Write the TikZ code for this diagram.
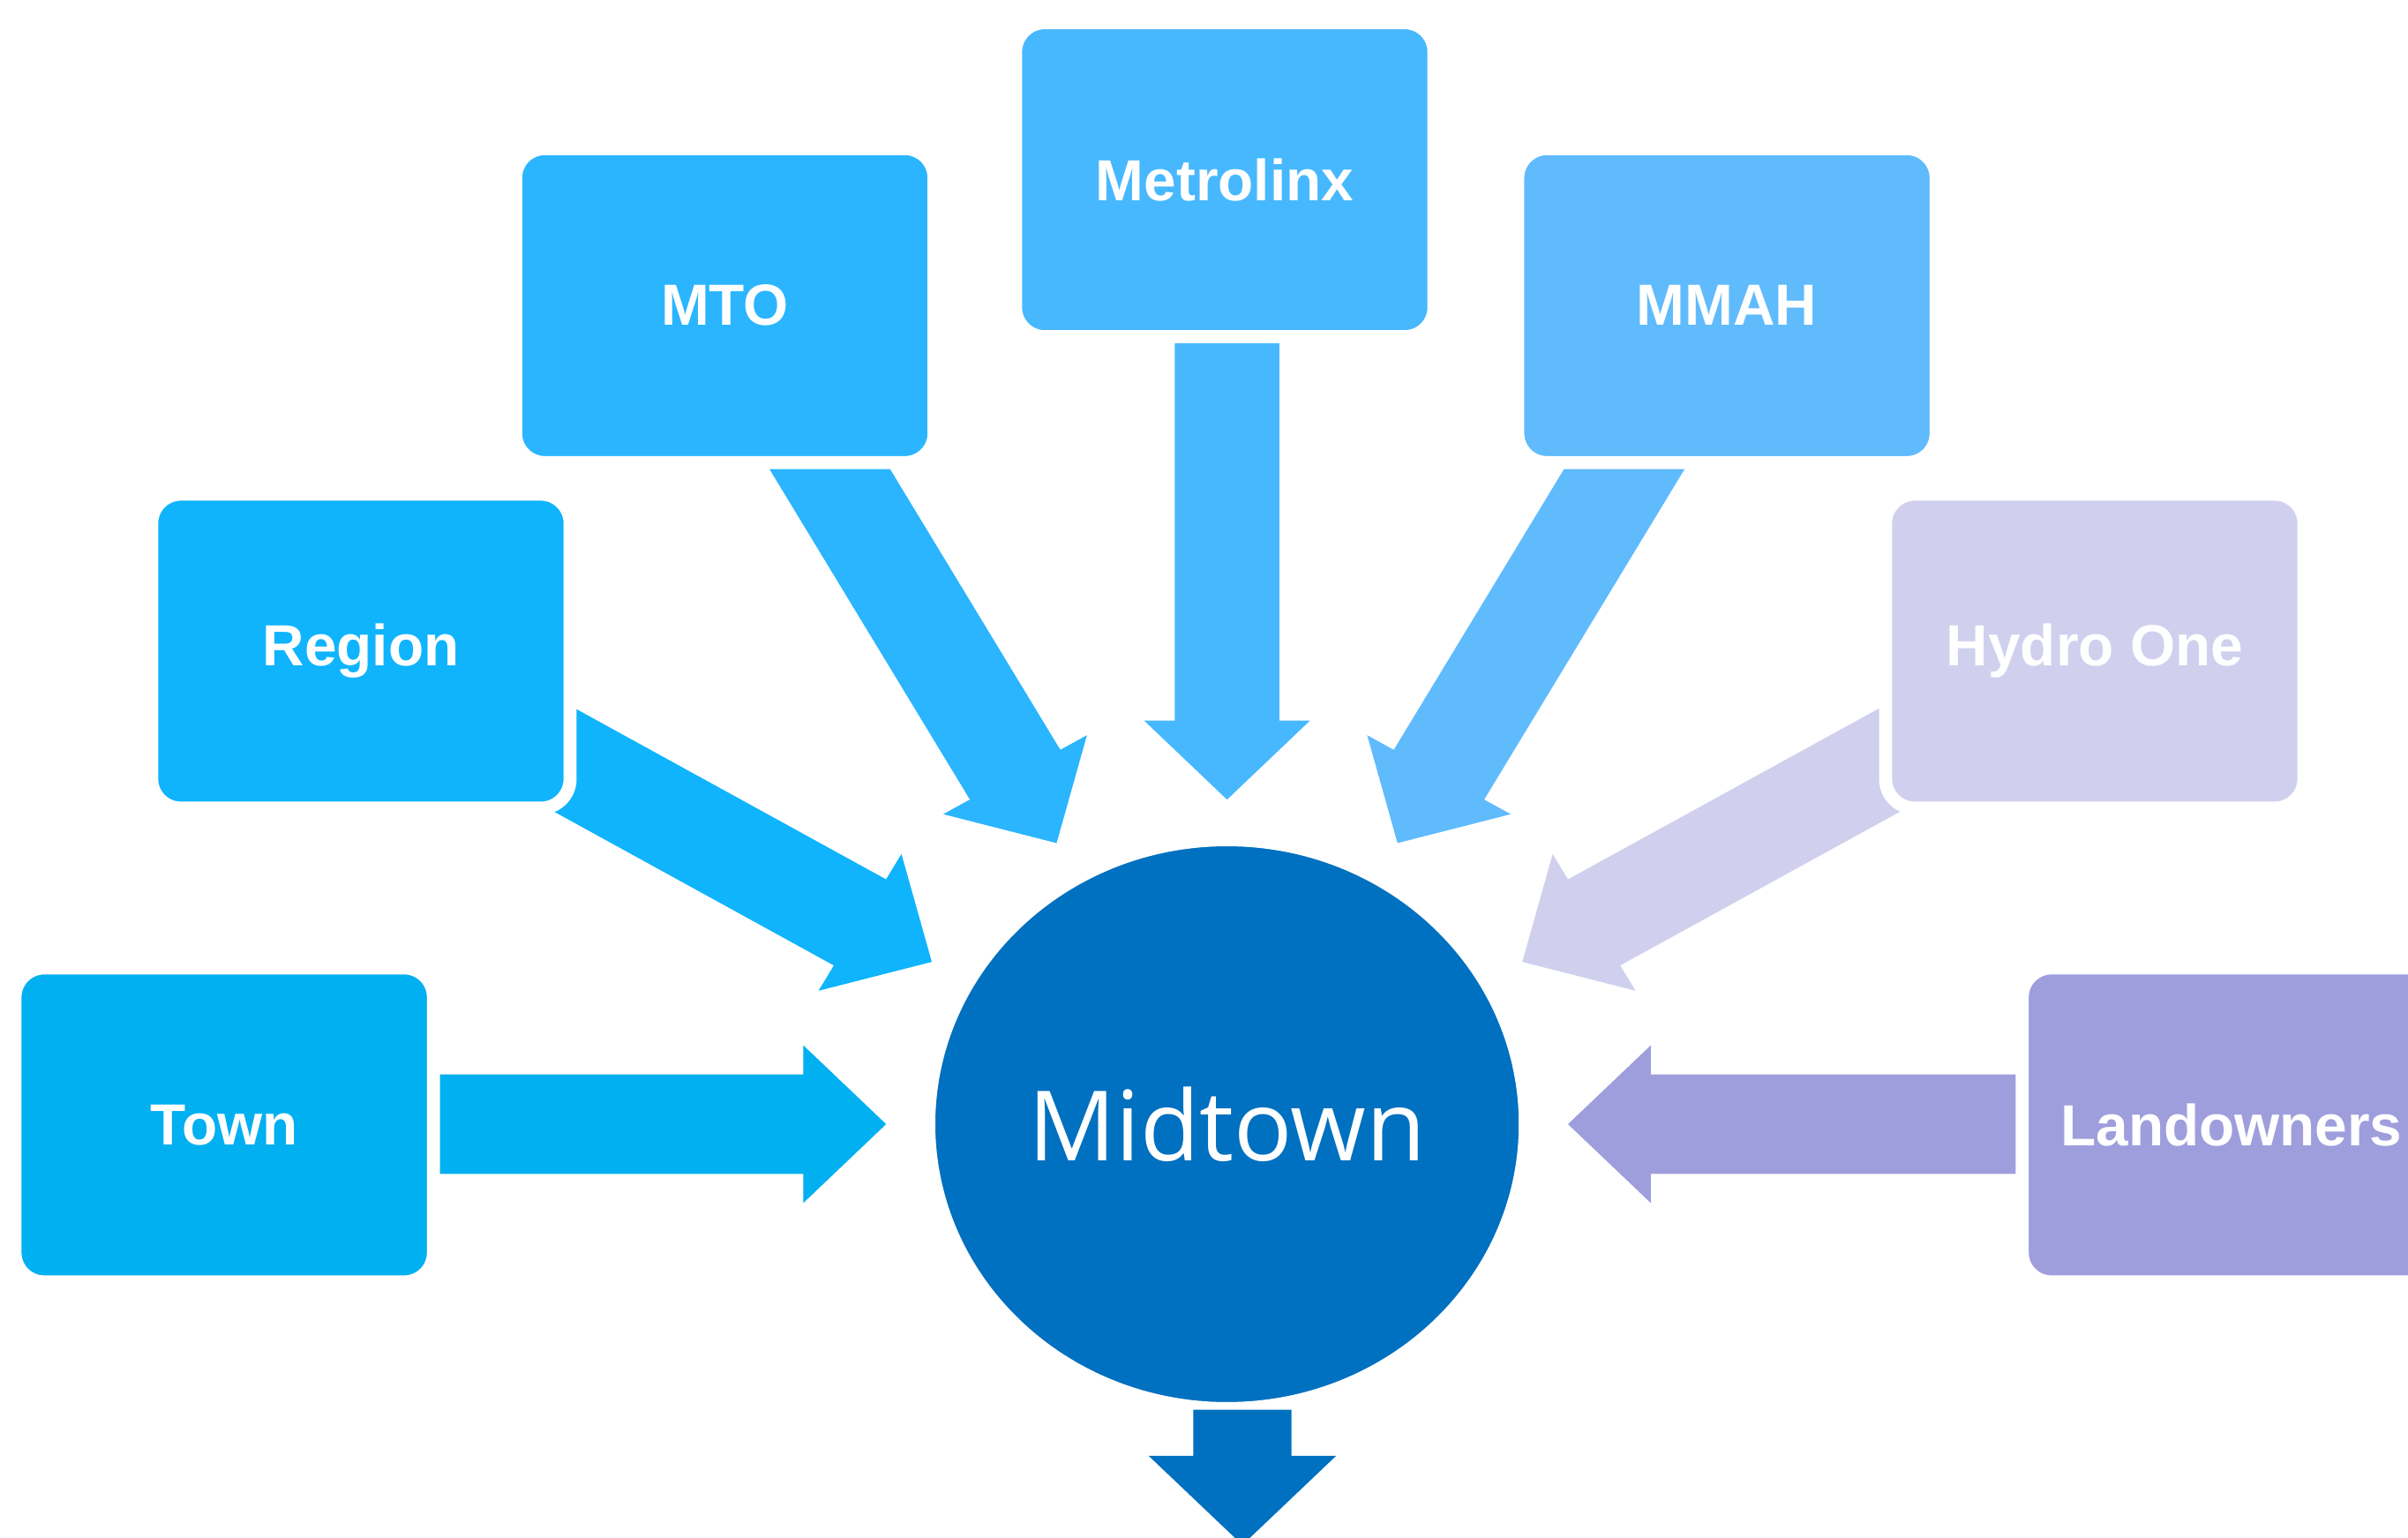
\documentclass[tikz,border=0pt]{standalone}
\usepackage{fontspec}
\usetikzlibrary{shapes.geometric}
\newfontfamily\boxfont{Liberation Sans}
\newfontfamily\hubfont{Open Sans}
\definecolor{towncol}{HTML}{00B0F0}
\definecolor{regioncol}{HTML}{0FB4FC}
\definecolor{mtocol}{HTML}{2AB5FE}
\definecolor{metrocol}{HTML}{47B8FE}
\definecolor{mmahcol}{HTML}{60BBFD}
\definecolor{hydrocol}{HTML}{D0D0EE}
\definecolor{landcol}{HTML}{9E9EDD}
\definecolor{midcol}{HTML}{0070C0}
\begin{document}
\begin{tikzpicture}[x=0.02cm, y=0.02cm,
    box/.style={rectangle, rounded corners=0.38cm, draw=white, line width=0.17cm,
        minimum width=5.45cm, minimum height=4.09cm, inner sep=0pt, text=white,
        font=\boxfont\bfseries\fontsize{21.5}{26}\selectfont},
    spoke/.style={shift={(hub)}, yscale=0.952, rotate=#1}]
    \useasboundingbox (0,0) rectangle (1568,1001);
    \clip (0,0) rectangle (1568,1001);
    \coordinate (hub) at (799,269);

    \fill[spoke=180, towncol] (540,34) -- (276,34) -- (276,54) -- (222,0) -- (276,-54) -- (276,-34) -- (540,-34) -- cycle;
    \fill[spoke=150, regioncol] (540,34) -- (276,34) -- (276,54) -- (222,0) -- (276,-54) -- (276,-34) -- (540,-34) -- cycle;
    \fill[spoke=120, mtocol] (540,34) -- (276,34) -- (276,54) -- (222,0) -- (276,-54) -- (276,-34) -- (540,-34) -- cycle;
    \fill[spoke=90, metrocol] (540,34) -- (276,34) -- (276,54) -- (222,0) -- (276,-54) -- (276,-34) -- (540,-34) -- cycle;
    \fill[spoke=60, mmahcol] (540,34) -- (276,34) -- (276,54) -- (222,0) -- (276,-54) -- (276,-34) -- (540,-34) -- cycle;
    \fill[spoke=30, hydrocol] (540,34) -- (276,34) -- (276,54) -- (222,0) -- (276,-54) -- (276,-34) -- (540,-34) -- cycle;
    \fill[spoke=0, landcol] (540,34) -- (276,34) -- (276,54) -- (222,0) -- (276,-54) -- (276,-34) -- (540,-34) -- cycle;

    \node[ellipse, fill=midcol, draw=white, line width=0.1cm, minimum width=7.7cm,
        minimum height=7.34cm, inner sep=0pt, text=white,
        font=\hubfont\fontsize{36}{43}\selectfont] (mid) at (hub) {Midtown};

    \node[box, fill=towncol] (town) at (146,268.5) {Town};
    \node[box, fill=regioncol] (region) at (235,577) {Region};
    \node[box, fill=mtocol] (mto) at (472,802) {MTO};
    \node[box, fill=metrocol] (metrolinx) at (797.5,884) {Metrolinx};
    \node[box, fill=mmahcol] (mmah) at (1124.5,802) {MMAH};
    \node[box, fill=hydrocol] (hydro) at (1364,577) {Hydro One};
    \node[box, fill=landcol] (landowners) at (1453,268.5) {Landowners};

    \coordinate (exit) at (809,53);
    \fill[midcol] (exit) ++(-32,30) -- ++(0,-30) -- ++(-29,0) -- ++(61,-58) -- ++(61,58) -- ++(-29,0) -- ++(0,30) -- cycle;
\end{tikzpicture}
\end{document}
